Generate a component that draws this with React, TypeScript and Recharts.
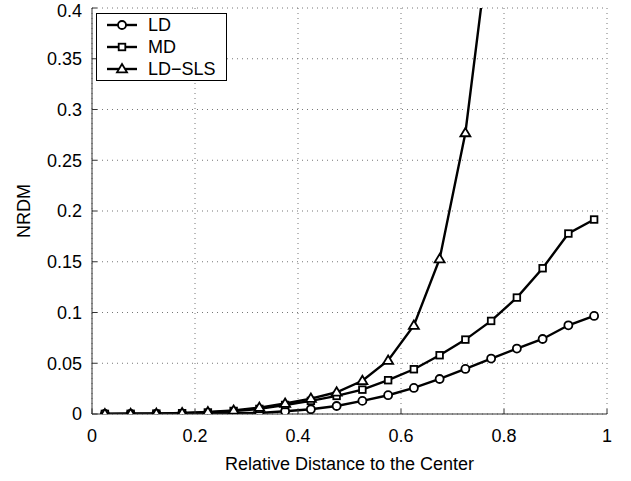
import { CartesianGrid, Legend, Line, LineChart, XAxis, YAxis } from "recharts";

// relative distance of each sample point
const distance = [
  0.025, 0.075, 0.125, 0.175, 0.225, 0.275, 0.325, 0.375, 0.425, 0.475,
  0.525, 0.575, 0.625, 0.675, 0.725, 0.775, 0.825, 0.875, 0.925, 0.975,
];

const ld = [
  0.0001, 0.0001, 0.0002, 0.0003, 0.0005, 0.0007, 0.001, 0.0027, 0.0047, 0.0079,
  0.0129, 0.0185, 0.0257, 0.0345, 0.0444, 0.0546, 0.0645, 0.0739, 0.0874, 0.0966,
];

const md = [
  0.0001, 0.0002, 0.0004, 0.0008, 0.0015, 0.003, 0.005, 0.0089, 0.0129, 0.0178,
  0.024, 0.0333, 0.0441, 0.0579, 0.0733, 0.0917, 0.1147, 0.1436, 0.1778, 0.1916,
];

// goes off the top of the axes after 0.725
const ldSls = [
  0.0001, 0.0002, 0.0004, 0.001, 0.002, 0.0035, 0.0063, 0.0103, 0.0152, 0.0214,
  0.0327, 0.0527, 0.0872, 0.1527, 0.2769, 0.48, null, null, null, null,
];

const xTicks = [0, 0.2, 0.4, 0.6, 0.8, 1];
const yTicks = [0, 0.05, 0.1, 0.15, 0.2, 0.25, 0.3, 0.35, 0.4];

const series = [
  { key: "ld", name: "LD", marker: "circle" },
  { key: "md", name: "MD", marker: "square" },
  { key: "ldSls", name: "LD\u2212SLS", marker: "triangle" },
];

const rows = distance.map((d, i) => ({ d, ld: ld[i], md: md[i], ldSls: ldSls[i] }));

const FONT = "'Liberation Sans', Arial, Helvetica, sans-serif";
const FS = 18;

function Marker({ kind, cx, cy }: { kind: string; cx: number; cy: number }) {
  const common = { fill: "#fff", stroke: "#000", strokeWidth: 1.8 };
  if (kind === "circle") return <circle cx={cx} cy={cy} r={4} {...common} />;
  if (kind === "square")
    return <rect x={cx - 3.3} y={cy - 3.3} width={6.6} height={6.6} {...common} />;
  return (
    <polygon
      points={`${cx},${cy - 5} ${cx + 5},${cy + 3.3} ${cx - 5},${cy + 3.3}`}
      {...common}
    />
  );
}

const dotFor = (kind: string) => (p: any) => {
  if (p.cx == null || p.cy == null || p.value == null) return <g key={p.key} />;
  return (
    <g key={p.key}>
      <Marker kind={kind} cx={p.cx} cy={p.cy} />
    </g>
  );
};

function LegendBox() {
  return (
    <div
      style={{
        border: "1px solid #000",
        background: "#fff",
        width: 131,
        boxSizing: "border-box",
        fontFamily: FONT,
        fontSize: FS,
        lineHeight: "22px",
        color: "#000",
      }}
    >
      {series.map((s) => (
        <div key={s.key} style={{ height: 22, display: "flex", alignItems: "center", paddingLeft: 10 }}>
          <svg width={30} height={12} style={{ overflow: "visible" }}>
            <line x1={0} y1={6} x2={30} y2={6} stroke="#000" strokeWidth={2.4} />
            <Marker kind={s.marker} cx={15} cy={6} />
          </svg>
          <span style={{ marginLeft: 11 }}>{s.name}</span>
        </div>
      ))}
    </div>
  );
}

const fmt = (v: number) => String(v);

export default function App() {
  return (
    <div style={{ position: "absolute", left: 0, top: 0, background: "#fff" }}>
      <LineChart
        width={631}
        height={481}
        data={rows}
        margin={{ top: 8, right: 24, bottom: 0, left: 0 }}
        style={{ fontFamily: FONT }}
      >
        <CartesianGrid stroke="#777" strokeDasharray="1 4" />
        <XAxis
          dataKey="d"
          type="number"
          domain={[0, 1]}
          ticks={xTicks}
          tickFormatter={fmt}
          height={67}
          tickSize={-5}
          tickMargin={20}
          stroke="#333"
          tick={{ fill: "#000", fontSize: FS }}
          label={{
            value: "Relative Distance to the Center",
            position: "insideBottom",
            offset: 11,
            fill: "#000",
            fontSize: FS,
          }}
        />
        <XAxis
          xAxisId="top"
          orientation="top"
          type="number"
          domain={[0, 1]}
          ticks={xTicks}
          height={0}
          tickSize={-5}
          tick={false}
          stroke="#333"
        />
        <YAxis
          type="number"
          domain={[0, 0.4]}
          ticks={yTicks}
          tickFormatter={fmt}
          allowDataOverflow
          width={92}
          tickSize={-5}
          tickMargin={15}
          stroke="#333"
          tick={{ fill: "#000", fontSize: FS }}
          label={{
            value: "NRDM",
            angle: -90,
            position: "insideLeft",
            offset: 24,
            fill: "#000",
            fontSize: FS,
            style: { textAnchor: "middle" },
          }}
        />
        <YAxis
          yAxisId="right"
          orientation="right"
          type="number"
          domain={[0, 0.4]}
          ticks={yTicks}
          width={0}
          tickSize={-5}
          tick={false}
          stroke="#333"
        />
        <Legend
          layout="horizontal"
          verticalAlign="middle"
          align="center"
          wrapperStyle={{ left: 96, top: 13, width: "auto" }}
          content={() => <LegendBox />}
        />
        {series.map((s) => (
          <Line
            key={s.key}
            dataKey={s.key}
            name={s.name}
            type="linear"
            stroke="#000"
            strokeWidth={2.4}
            dot={dotFor(s.marker)}
            activeDot={false}
            connectNulls={false}
            isAnimationActive={false}
          />
        ))}
      </LineChart>
    </div>
  );
}
